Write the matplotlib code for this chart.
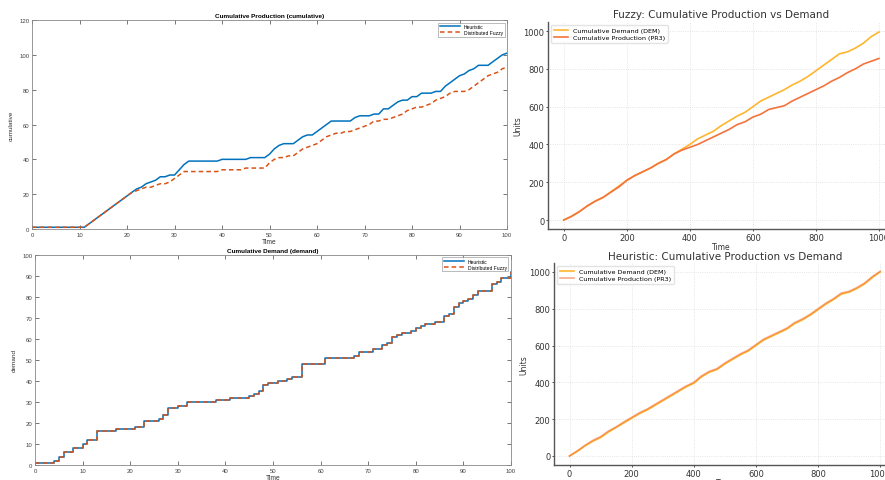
import numpy as np
import matplotlib
matplotlib.use('Agg')
import matplotlib.pyplot as plt

# ---- left panels: cumulative values, t = 0..100 ----
t_left = np.arange(0, 101)

prod_heuristic = [1, 1, 1, 1, 1, 1, 1, 1, 1, 1, 1, 1, 3, 5, 7, 9, 11, 13, 15, 17,
                  19, 21, 23, 24, 26, 27, 28, 30, 30, 31, 31, 34, 37, 39, 39, 39, 39, 39, 39, 39,
                  40, 40, 40, 40, 40, 40, 41, 41, 41, 41, 43, 46, 48, 49, 49, 49, 51, 53, 54, 54,
                  56, 58, 60, 62, 62, 62, 62, 62, 64, 65, 65, 65, 66, 66, 69, 69, 71, 73, 74, 74,
                  76, 76, 78, 78, 78, 79, 79, 82, 84, 86, 88, 89, 91, 92, 94, 94, 94, 96, 98, 100,
                  101]
prod_fuzzy = [1, 1, 1, 1, 1, 1, 1, 1, 1, 1, 1, 1, 3, 5, 7, 9, 11, 13, 15, 17,
              19, 21, 22, 23, 24, 24, 25, 26, 26, 27, 29, 31, 33, 33, 33, 33, 33, 33, 33, 33,
              34, 34, 34, 34, 34, 35, 35, 35, 35, 35, 38, 40, 41, 41, 42, 42, 44, 46, 47, 48,
              49, 51, 53, 54, 55, 55, 56, 56, 57, 58, 59, 60, 62, 62, 63, 63, 64, 65, 66, 68,
              69, 70, 70, 71, 72, 74, 75, 76, 78, 79, 79, 79, 80, 82, 84, 86, 88, 89, 90, 92,
              93]
demand = [1, 1, 1, 1, 2, 4, 6, 6, 8, 8, 10, 12, 12, 16, 16, 16, 16, 17, 17, 17,
          17, 18, 18, 21, 21, 21, 22, 24, 27, 27, 28, 28, 30, 30, 30, 30, 30, 30, 31, 31,
          31, 32, 32, 32, 32, 33, 34, 35, 38, 39, 39, 40, 40, 41, 42, 42, 48, 48, 48, 48,
          48, 51, 51, 51, 51, 51, 51, 52, 54, 54, 54, 55, 55, 57, 58, 61, 62, 63, 63, 64,
          65, 66, 67, 67, 68, 68, 71, 72, 75, 77, 78, 79, 81, 83, 83, 83, 86, 87, 89, 89,
          92]

# ---- right panels: t = 0..1000 every 25 ----
t_right = np.arange(0, 1001, 25)

fz_dem = [0, 20, 45, 75, 100, 120, 150, 180, 210, 235, 255, 275, 300, 320, 350, 375,
          400, 430, 450, 470, 500, 525, 550, 570, 600, 630, 650, 670, 690, 715, 735,
          760, 790, 820, 850, 880, 890, 910, 935, 970, 995]
fz_prod = [0, 20, 45, 75, 100, 120, 148, 175, 210, 235, 255, 275, 300, 320, 350, 370,
           385, 400, 420, 440, 460, 480, 505, 520, 545, 560, 585, 595, 605, 630, 650, 670,
           690, 710, 735, 755, 780, 800, 825, 840, 855]
he_dem = [0, 25, 55, 80, 100, 130, 155, 180, 205, 230, 250, 275, 300, 325, 350, 375, 395,
          430, 455, 470, 500, 525, 550, 570, 600, 630, 650, 670, 690, 720, 740, 765, 795,
          825, 850, 880, 890, 910, 935, 970, 1000]
he_prod = [0, 28, 58, 85, 105, 135, 158, 185, 210, 235, 255, 280, 305, 330, 355, 380, 400,
           435, 460, 475, 505, 530, 555, 575, 605, 635, 655, 675, 695, 725, 745, 770, 800,
           830, 855, 885, 895, 915, 940, 975, 1003]

fig = plt.figure(figsize=(8.85, 4.81), dpi=100)

BLUE = '#0072BD'
RED = '#D95319'
ML_FONT = 'Liberation Sans'


def matlab_axes(ax, ylim, ystep, ylabel, title):
    ax.set_xlim(0, 100)
    ax.set_ylim(*ylim)
    ax.set_xticks(np.arange(0, 101, 10))
    ax.set_yticks(np.arange(ylim[0], ylim[1] + 1, ystep))
    ax.tick_params(direction='in', top=True, right=True, length=3, width=0.5,
                   labelsize=4.3, colors='#404040', pad=2)
    for s in ax.spines.values():
        s.set_color('#888888')
        s.set_linewidth(0.6)
    for lab in ax.get_xticklabels() + ax.get_yticklabels():
        lab.set_family(ML_FONT)
    ax.set_xlabel('Time', fontsize=4.8, family=ML_FONT, labelpad=1, color='#303030')
    ax.set_ylabel(ylabel, fontsize=4.6, family=ML_FONT, labelpad=4, color='#303030')
    ax.set_title(title, fontsize=4.6, family=ML_FONT, fontweight='bold', pad=2)
    leg = ax.legend(loc='upper right', prop={'family': ML_FONT, 'size': 3.6},
                    frameon=True, fancybox=False, handlelength=4, borderpad=0.3,
                    labelspacing=0.2)
    leg.get_frame().set_edgecolor('#888888')
    leg.get_frame().set_linewidth(0.5)


# top-left
ax1 = fig.add_axes([0.0362, 0.5218, 0.5367, 0.4345])
ax1.plot(t_left, prod_heuristic, color=BLUE, lw=1.1, label='Heuristic')
ax1.plot(t_left, prod_fuzzy, color=RED, lw=1.1, ls=(0, (3, 2)), label='Distributed Fuzzy')
matlab_axes(ax1, (0, 120), 20, 'cumulative', 'Cumulative Production (cumulative)')

# bottom-left
ax2 = fig.add_axes([0.0395, 0.0312, 0.5379, 0.4366])
ax2.plot(t_left, demand, drawstyle='steps-post', color=BLUE, lw=1.1, label='Heuristic')
ax2.plot(t_left, demand, drawstyle='steps-post', color=RED, lw=1.1, ls=(0, (3, 2)),
         label='Distributed Fuzzy')
matlab_axes(ax2, (0, 100), 10, 'demand', 'Cumulative Demand (demand)')

DEM_C = '#FFB52E'
PROD_C = '#F4733C'


def gpt_axes(ax, title):
    ax.set_xlim(-50, 1050)
    ax.set_ylim(-50, 1050)
    ax.set_xticks(np.arange(0, 1001, 200))
    ax.set_yticks(np.arange(0, 1001, 200))
    ax.grid(True, color='#dddddd', lw=0.6, ls=':')
    ax.set_axisbelow(True)
    for side in ('top', 'right'):
        ax.spines[side].set_visible(False)
    for side in ('left', 'bottom'):
        ax.spines[side].set_color('#555555')
        ax.spines[side].set_linewidth(1.0)
    ax.tick_params(labelsize=6, length=1.5, width=0.6, colors='#333333', pad=1)
    ax.set_xlabel('Time', fontsize=5.5, labelpad=0, color='#333333')
    ax.set_ylabel('Units', fontsize=5.5, labelpad=1, color='#333333')
    ax.set_title(title, fontsize=7.5, pad=3, color='#333333')
    ax.legend(loc='upper left', fontsize=4.6, frameon=True, handlelength=2.2,
              borderpad=0.4, labelspacing=0.3, edgecolor='#dddddd')


# top-right
ax3 = fig.add_axes([0.6192, 0.5208, 0.3918, 0.4322])
ax3.plot(t_right, fz_dem, color=DEM_C, lw=1.2, label='Cumulative Demand (DEM)')
ax3.plot(t_right, fz_prod, color=PROD_C, lw=1.2, label='Cumulative Production (PR3)')
gpt_axes(ax3, 'Fuzzy: Cumulative Production vs Demand')

# bottom-right
ax4 = fig.add_axes([0.626, 0.0308, 0.386, 0.4208])
ax4.plot(t_right, he_dem, color=DEM_C, lw=1.2, label='Cumulative Demand (DEM)')
ax4.plot(t_right, he_prod, color=PROD_C, lw=1.2, alpha=0.6, label='Cumulative Production (PR3)')
gpt_axes(ax4, 'Heuristic: Cumulative Production vs Demand')

fig.savefig('out.png', dpi=100)
